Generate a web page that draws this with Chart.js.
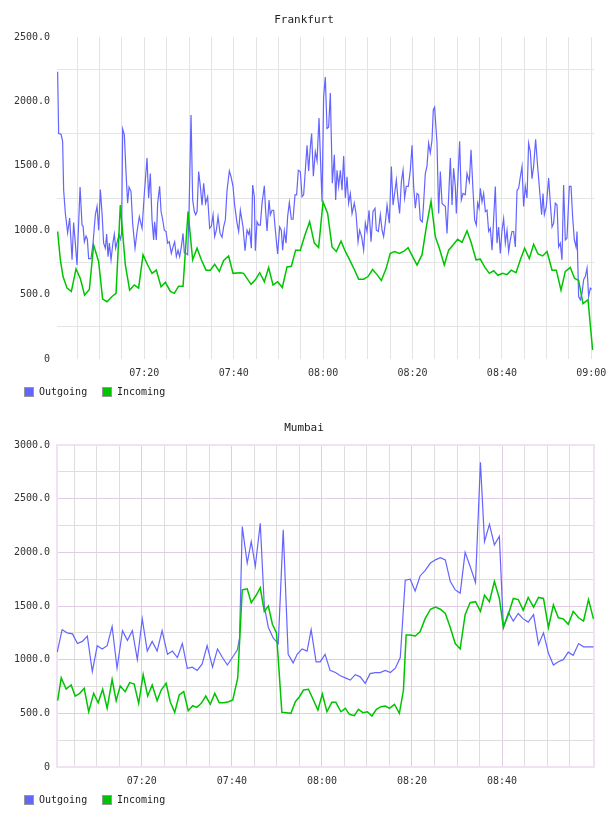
<!DOCTYPE html>
<html>
<head>
<meta charset="utf-8">
<script src="https://cdn.jsdelivr.net/npm/chart.js@4.4.1/dist/chart.umd.min.js"></script>
<style>
  body { margin: 0; background: #fff; }
  canvas { display: block; }
</style>
</head>
<body>
<canvas id="frankfurt" width="608" height="408"></canvas>
<canvas id="mumbai" width="608" height="408"></canvas>
<script>
// series: [minutes after 07:00, value]
const seriesNames = ["Outgoing", "Incoming"];
const seriesColors = ["#6464ff", "#00c400"];

const frankfurtOut = [[0.6,2230],[0.83,1750],[1.36,1745],[1.72,1690],[1.95,1310],[2.33,1130],[2.84,980],[3.29,1095],[3.83,770],[4.18,1060],[4.56,900],[4.94,730],[5.62,1335],[6.06,1040],[6.29,1030],[6.58,910],[6.96,955],[7.25,930],[7.54,780],[8.08,780],[8.52,900],[9.04,1120],[9.42,1185],[9.78,1000],[10.16,1315],[10.54,1130],[10.89,900],[11.28,860],[11.57,970],[11.88,795],[12.17,900],[12.55,770],[13.0,910],[13.29,970],[13.58,860],[14.03,925],[14.34,965],[14.63,930],[14.92,975],[15.15,1785],[15.53,1740],[15.91,1440],[16.26,1210],[16.58,1335],[17.02,1300],[17.38,1055],[17.92,860],[18.37,990],[18.88,1105],[19.49,1015],[20.0,1285],[20.6,1560],[20.96,1250],[21.34,1440],[21.72,1080],[22.08,925],[22.3,1065],[22.68,925],[22.98,1210],[23.42,1340],[23.74,1145],[24.09,1085],[24.47,1000],[24.85,990],[25.21,900],[25.59,910],[26.04,820],[26.42,870],[26.78,910],[27.16,795],[27.54,845],[27.9,795],[28.28,870],[28.66,975],[28.95,825],[29.33,820],[29.69,810],[30.0,1145],[30.45,1895],[30.81,1235],[31.19,1145],[31.48,1120],[31.79,1145],[32.15,1455],[32.53,1340],[32.91,1195],[33.27,1365],[33.71,1210],[34.16,1260],[34.61,1015],[34.99,1030],[35.37,1120],[35.73,950],[36.11,1000],[36.49,1105],[36.94,975],[37.38,945],[37.74,1025],[38.12,1080],[38.5,1310],[39.02,1460],[39.4,1415],[39.84,1340],[40.2,1195],[40.74,1055],[41.1,990],[41.48,1155],[42.08,1025],[42.53,840],[42.98,1000],[43.33,970],[43.56,1000],[43.94,860],[44.23,1350],[44.61,1260],[44.83,840],[45.21,1065],[45.57,1040],[45.95,1040],[46.33,1210],[46.85,1345],[47.14,1145],[47.45,995],[47.9,1235],[48.19,1120],[48.57,1155],[48.93,1155],[49.31,1000],[49.82,815],[50.27,1025],[50.65,1000],[50.94,845],[51.32,995],[51.7,900],[52.06,1105],[52.44,1215],[52.89,1085],[53.27,1085],[53.71,1275],[54.07,1275],[54.45,1465],[54.9,1455],[55.28,1260],[55.64,1275],[56.02,1465],[56.4,1660],[56.76,1460],[57.14,1650],[57.43,1750],[57.81,1420],[58.25,1610],[58.64,1540],[59.08,1870],[59.75,1220],[60.11,2035],[60.49,2190],[60.87,1790],[61.23,1800],[61.61,2065],[62.06,1365],[62.51,1585],[62.8,1235],[63.11,1465],[63.47,1340],[63.85,1465],[64.23,1310],[64.59,1575],[64.97,1250],[65.35,1415],[65.7,1210],[66.09,1285],[66.47,1130],[66.98,1210],[67.36,1130],[67.81,910],[68.17,1000],[68.61,950],[69.06,845],[69.44,1055],[69.82,990],[70.27,1155],[70.72,910],[71.16,1145],[71.61,1170],[71.9,1000],[72.35,990],[72.8,1120],[73.18,1000],[73.53,950],[73.91,1055],[74.3,1195],[74.81,1055],[75.26,1495],[75.64,1195],[76.0,1285],[76.38,1390],[76.76,1235],[77.11,1130],[77.5,1375],[77.88,1465],[78.23,1250],[78.61,1340],[79.06,1340],[79.51,1465],[79.89,1660],[80.25,1340],[80.63,1170],[81.01,1285],[81.36,1275],[81.74,1080],[82.19,1065],[82.48,1210],[82.86,1440],[83.24,1500],[83.6,1675],[83.98,1600],[84.36,1700],[84.65,1935],[84.94,1955],[85.48,1675],[85.84,1130],[86.22,1455],[86.6,1210],[86.96,1195],[87.34,1185],[87.72,975],[88.08,1260],[88.46,1560],[88.84,1195],[89.19,1480],[89.57,1340],[89.8,1130],[90.18,1415],[90.54,1690],[90.92,1235],[91.3,1285],[91.81,1275],[92.19,1440],[92.71,1375],[93.09,1625],[93.53,1310],[93.9,1080],[94.27,1040],[94.56,1210],[94.88,1170],[95.17,1325],[95.55,1220],[95.91,1285],[96.29,1145],[96.67,1155],[97.03,990],[97.41,1015],[97.79,845],[98.14,1080],[98.52,1340],[98.9,900],[99.26,1025],[99.64,820],[100.02,1000],[100.38,1090],[100.76,900],[101.14,1000],[101.5,835],[101.88,925],[102.26,990],[102.62,990],[103.0,870],[103.38,1310],[103.74,1325],[104.12,1415],[104.5,1495],[104.85,1185],[105.23,1340],[105.61,1250],[105.97,1675],[106.35,1610],[106.73,1400],[107.09,1495],[107.54,1705],[107.99,1495],[108.43,1310],[108.88,1120],[109.19,1285],[109.49,1120],[109.93,1185],[110.45,1405],[110.83,1210],[111.21,1025],[111.57,1055],[111.95,1210],[112.33,1195],[112.68,870],[113.06,900],[113.44,770],[113.8,1350],[114.18,925],[114.56,940],[115.08,1340],[115.46,1340],[115.82,1105],[116.2,925],[116.58,870],[116.8,990],[117.16,485],[117.54,460],[117.92,510],[118.28,615],[118.66,640],[119.04,705],[119.4,485],[119.78,550],[120.07,540]];

const frankfurtIn = [[0.6,990],[1.21,770],[1.81,640],[2.71,550],[3.67,525],[4.72,700],[5.68,625],[6.64,495],[7.7,540],[8.66,885],[9.78,755],[10.67,465],[11.66,445],[12.77,485],[13.67,510],[14.63,1195],[15.75,730],[16.71,535],[17.76,575],[18.72,550],[19.71,810],[20.74,730],[21.72,665],[22.68,690],[23.74,560],[24.7,595],[25.82,525],[26.71,510],[27.67,565],[28.66,565],[29.78,1145],[30.81,770],[31.79,860],[32.75,770],[33.8,690],[34.77,690],[35.73,735],[36.78,680],[37.74,765],[38.86,800],[39.84,665],[41.48,670],[42.21,665],[43.87,580],[44.83,615],[45.8,670],[46.85,600],[47.81,710],[48.79,575],[49.82,600],[50.87,555],[51.92,715],[52.89,720],[53.85,845],[54.9,845],[55.86,955],[56.98,1065],[58.03,900],[58.99,865],[59.98,1220],[61.01,1130],[61.99,870],[62.95,835],[64.0,915],[64.97,835],[65.93,770],[66.98,695],[67.94,620],[69.06,620],[70.04,640],[71.07,695],[72.06,655],[73.02,610],[74.07,700],[75.03,820],[76.0,835],[77.05,820],[78.01,835],[79.0,865],[80.02,795],[81.01,730],[82.13,810],[83.09,1025],[84.14,1225],[85.1,950],[86.0,860],[87.11,730],[88.08,845],[89.06,885],[90.09,930],[91.07,905],[92.19,995],[93.15,900],[94.21,770],[95.17,775],[96.13,715],[97.18,665],[98.14,685],[99.13,650],[100.16,665],[101.14,655],[102.1,690],[103.15,670],[104.12,770],[105.08,860],[106.13,780],[107.09,890],[108.08,815],[109.11,800],[110.09,835],[111.21,690],[112.17,690],[113.22,535],[114.18,680],[115.3,710],[116.26,625],[117.16,610],[118.14,430],[119.26,460],[120.29,70]];

const mumbaiOut = [[1.2,1070],[2.3,1280],[3.4,1250],[4.6,1240],[5.7,1150],[6.8,1170],[7.9,1220],[9.0,890],[10.1,1130],[11.2,1100],[12.3,1130],[13.4,1310],[14.5,920],[15.7,1270],[16.8,1180],[17.9,1270],[19.0,1000],[20.1,1380],[21.2,1080],[22.3,1170],[23.4,1080],[24.5,1270],[25.7,1050],[26.8,1080],[27.9,1020],[29.0,1150],[30.1,920],[31.2,930],[32.3,900],[33.4,960],[34.5,1130],[35.7,930],[36.8,1100],[37.9,1020],[39.0,950],[40.1,1020],[41.2,1090],[41.7,1200],[42.3,2240],[43.4,1900],[44.3,2100],[45.2,1870],[46.3,2270],[47.2,1500],[48.1,1300],[49.2,1200],[50.3,1150],[51.4,2210],[52.5,1050],[53.6,970],[54.5,1050],[55.6,1100],[56.7,1080],[57.6,1280],[58.7,980],[59.6,980],[60.7,1050],[61.8,900],[63.0,880],[64.1,850],[65.2,830],[66.3,810],[67.4,860],[68.5,840],[69.6,780],[70.7,870],[71.8,880],[72.9,880],[74.1,900],[75.2,880],[76.3,920],[77.4,1020],[78.5,1740],[79.6,1750],[80.7,1640],[81.8,1780],[82.9,1830],[84.1,1900],[85.2,1930],[86.3,1950],[87.4,1930],[88.5,1730],[89.6,1650],[90.7,1620],[91.8,2000],[92.9,1870],[94.1,1720],[95.2,2840],[96.1,2100],[97.2,2260],[98.3,2070],[99.4,2150],[100.3,1300],[101.4,1440],[102.5,1360],[103.6,1430],[104.7,1380],[105.8,1350],[107.0,1420],[108.1,1140],[109.2,1250],[110.3,1060],[111.4,950],[112.5,980],[113.6,1000],[114.7,1070],[115.8,1040],[117.0,1150],[118.1,1120],[119.2,1120],[120.3,1120]];

const mumbaiIn = [[1.3,618],[2.1,830],[3.2,727],[4.3,764],[5.2,661],[6.2,686],[7.2,733],[8.2,515],[9.3,686],[10.3,599],[11.3,724],[12.3,547],[13.4,815],[14.3,618],[15.2,755],[16.3,702],[17.3,786],[18.3,773],[19.3,593],[20.3,860],[21.3,661],[22.3,764],[23.4,618],[24.3,717],[25.4,780],[26.3,608],[27.3,509],[28.3,671],[29.3,702],[30.3,525],[31.3,571],[32.2,556],[33.2,593],[34.2,661],[35.2,584],[36.2,686],[37.2,599],[38.2,599],[39.3,608],[40.2,624],[41.3,830],[42.3,1650],[43.4,1660],[44.3,1530],[45.4,1600],[46.3,1670],[47.2,1450],[48.1,1500],[49.0,1330],[49.9,1250],[51.1,509],[52.1,505],[53.1,500],[54.1,608],[55.0,655],[55.9,717],[57.0,724],[58.1,624],[59.1,531],[60.1,680],[61.1,515],[62.2,603],[63.1,603],[64.2,515],[65.2,547],[66.1,491],[67.2,478],[68.1,538],[69.1,506],[70.1,515],[71.1,475],[72.1,538],[73.1,562],[74.1,568],[75.0,547],[76.1,584],[77.2,500],[78.1,717],[78.7,1230],[79.6,1230],[80.7,1220],[81.8,1260],[82.9,1380],[84.1,1470],[85.2,1490],[86.3,1470],[87.4,1430],[88.5,1300],[89.6,1150],[90.7,1100],[91.8,1420],[92.9,1530],[94.1,1540],[95.2,1450],[96.1,1600],[97.2,1540],[98.3,1730],[99.4,1570],[100.3,1300],[101.4,1420],[102.5,1570],[103.6,1560],[104.7,1460],[105.8,1580],[107.0,1490],[108.1,1580],[109.2,1570],[110.3,1300],[111.4,1510],[112.5,1390],[113.6,1380],[114.7,1330],[115.8,1450],[117.0,1390],[118.1,1360],[119.2,1560],[120.3,1380]];

const FONT = "DejaVu Sans Mono";

// 標題、圖例與外框
const chromePlugin = {
  id: "chrome",
  beforeDatasetsDraw(chart, args, opts) {
    if (!opts.frame) return;
    const { left, right, top, bottom } = chart.chartArea;
    const ctx = chart.ctx;
    ctx.save();
    ctx.strokeStyle = opts.frame;
    ctx.lineWidth = 2;
    ctx.strokeRect(left, top, right - left, bottom - top);
    ctx.restore();
  },
  afterDraw(chart, args, opts) {
    const ctx = chart.ctx;
    ctx.save();
    ctx.font = `11px "${FONT}"`;
    ctx.fillStyle = "#222";
    ctx.textAlign = "center";
    ctx.textBaseline = "middle";
    ctx.fillText(opts.title, chart.width / 2, 20.5);

    ctx.font = `10px "${FONT}"`;
    ctx.textAlign = "left";
    let x = 24;
    chart.data.datasets.forEach((ds) => {
      ctx.fillStyle = ds.borderColor;
      ctx.fillRect(x, 387, 10, 10);
      ctx.strokeStyle = "#999";
      ctx.lineWidth = 1;
      ctx.strokeRect(x + 0.5, 387.5, 9, 9);
      ctx.fillStyle = "#222";
      ctx.fillText(ds.label, x + 15, 392.5);
      x += 78;
    });
    ctx.restore();
  },
};

const pad = (n) => String(n).padStart(2, "0");
const timeLabel = (m) => `${pad(7 + Math.floor(m / 60))}:${pad(m % 60)}`;

function makeChart(id, title, outData, inData, opt) {
  return new Chart(document.getElementById(id), {
    type: "line",
    data: {
      datasets: [
        { label: seriesNames[0], data: outData, borderColor: seriesColors[0], borderWidth: 1.2, order: 1 },
        { label: seriesNames[1], data: inData, borderColor: seriesColors[1], borderWidth: 1.5, order: 0 },
      ],
    },
    plugins: [chromePlugin],
    options: {
      responsive: false,
      devicePixelRatio: 1,
      animation: false,
      events: [],
      layout: { padding: { left: 0, right: 14, top: 37, bottom: 0 } },
      elements: { point: { radius: 0 }, line: { tension: 0 } },
      plugins: {
        legend: { display: false },
        title: { display: false },
        tooltip: { enabled: false },
        chrome: { title: title, frame: opt.frame },
      },
      scales: {
        x: {
          type: "linear",
          min: opt.xMin,
          max: opt.xMax,
          afterBuildTicks: (s) => { s.ticks = s.ticks.filter((t) => t.value <= opt.lastTick); },
          afterFit: (s) => { s.height = 49; s.paddingLeft = 0; s.paddingRight = 0; },
          border: { display: false },
          grid: {
            drawTicks: false,
            color: (c) => (c.tick && c.tick.value % 20 === 0 ? opt.major : opt.minor),
          },
          ticks: {
            stepSize: 5,
            includeBounds: false,
            autoSkip: false,
            maxRotation: 0,
            padding: 8,
            color: "#333",
            font: { family: FONT, size: 10 },
            callback: (v) => (v % 20 === 0 ? timeLabel(v) : ""),
          },
        },
        y: {
          min: 0,
          max: opt.yMax,
          afterFit: (s) => { s.width = 57; s.paddingTop = 0; s.paddingBottom = 0; },
          border: { display: false },
          grid: {
            drawTicks: false,
            color: (c) => (c.tick && c.tick.value % 500 === 0 ? opt.yMajor : opt.minor),
          },
          ticks: {
            stepSize: 250,
            autoSkip: false,
            padding: 7,
            color: "#333",
            font: { family: FONT, size: 10 },
            callback: (v) => (v % 500 === 0 ? (v === 0 ? "0" : v.toFixed(1)) : ""),
          },
        },
      },
    },
  });
}

makeChart("frankfurt", "Frankfurt", frankfurtOut, frankfurtIn, {
  xMin: 0.46, xMax: 120.6, lastTick: 120, yMax: 2500,
  major: "#e4e4e4", minor: "#e4e4e4", yMajor: "rgba(0,0,0,0)", frame: null,
});

makeChart("mumbai", "Mumbai", mumbaiOut, mumbaiIn, {
  xMin: 1.16, xMax: 120.42, lastTick: 115, yMax: 3000,
  major: "#e2cbe6", minor: "#dedede", yMajor: "#e2cbe6", frame: "#f0e2f2",
});
</script>
</body>
</html>
